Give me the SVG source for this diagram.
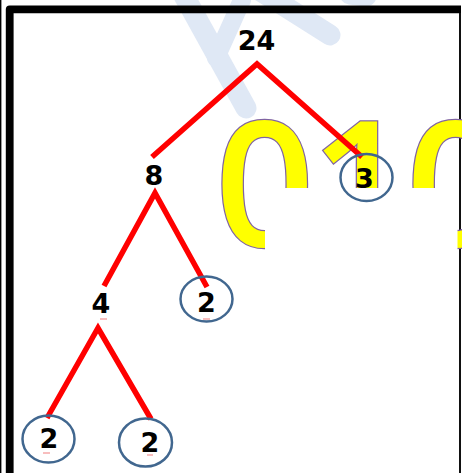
<svg xmlns="http://www.w3.org/2000/svg" width="462" height="473" viewBox="0 0 462 473">
  <defs>
    <style>
      .wm { stroke: #dfe8f5; stroke-width: 21; stroke-linecap: round; fill: none; }
      .edge { stroke: #ff0000; stroke-width: 5.5; stroke-linecap: butt; fill: none; }
      .ring { fill: none; stroke: #41678f; stroke-width: 2.5; }
      .lbl { font-family: "DejaVu Sans", "Liberation Sans", sans-serif; font-weight: bold; font-size: 27px; fill: #000; text-anchor: middle; }
      .big { font-family: "Open Sans", "Liberation Sans", sans-serif; font-weight: 600; font-size: 174px; letter-spacing: -4px; fill: #ffff00; stroke: #8064a2; stroke-width: 2.5; paint-order: stroke; }
      .tick { stroke: #f6a8a8; stroke-width: 1.5; }
    </style>
  </defs>
  <rect x="0" y="0" width="462" height="473" fill="#ffffff"/>
  <g id="watermark">
    <line class="wm" x1="182" y1="-8" x2="246" y2="108"/>
    <line class="wm" x1="216" y1="58" x2="242" y2="0" style="stroke-width:18"/>
    <line class="wm" x1="262" y1="-8" x2="330" y2="35"/>
    <line class="wm" x1="350" y1="-6" x2="366" y2="-4"/>
  </g>
  <g id="frame">
    <rect x="0" y="0" width="1.4" height="473" fill="#000"/>
    <path d="M9.7 473 V9.3 H461" fill="none" stroke="#000" stroke-width="7.8" stroke-linejoin="round"/>
    <line x1="460" y1="13" x2="460" y2="473" stroke="#111" stroke-width="2"/>
  </g>
  <text class="big" x="215" y="246">010</text>
  <rect x="265" y="188" width="192.5" height="152" fill="#ffffff"/>
  <g id="connectors">
    <polyline class="edge" points="152,157 257,64 362,157"/>
    <polyline class="edge" points="104,286 155,193 207,287"/>
    <polyline class="edge" points="47,418 98,328 151,419"/>
  </g>
  <g id="n24"><text class="lbl" x="256.5" y="50">24</text></g>
  <g id="n8"><text class="lbl" x="154" y="185">8</text></g>
  <g id="n3"><ellipse class="ring" cx="366.5" cy="177.5" rx="26" ry="23.5"/><text class="lbl" x="364.5" y="188">3</text></g>
  <g id="n4"><text class="lbl" x="101" y="313">4</text><line class="tick" x1="100" y1="319" x2="107" y2="319"/></g>
  <g id="n2a"><ellipse class="ring" cx="206.5" cy="299" rx="26" ry="22.5"/><text class="lbl" x="206.5" y="312">2</text><line class="tick" x1="203" y1="319" x2="210" y2="319"/></g>
  <g id="n2b"><ellipse class="ring" cx="48.5" cy="439" rx="26" ry="23.5"/><text class="lbl" x="49" y="448">2</text><line class="tick" x1="43" y1="453" x2="50" y2="453"/></g>
  <g id="n2c"><ellipse class="ring" cx="145.5" cy="442.5" rx="26.5" ry="24"/><text class="lbl" x="150" y="452">2</text><line class="tick" x1="147" y1="455" x2="153" y2="455"/></g>
</svg>
